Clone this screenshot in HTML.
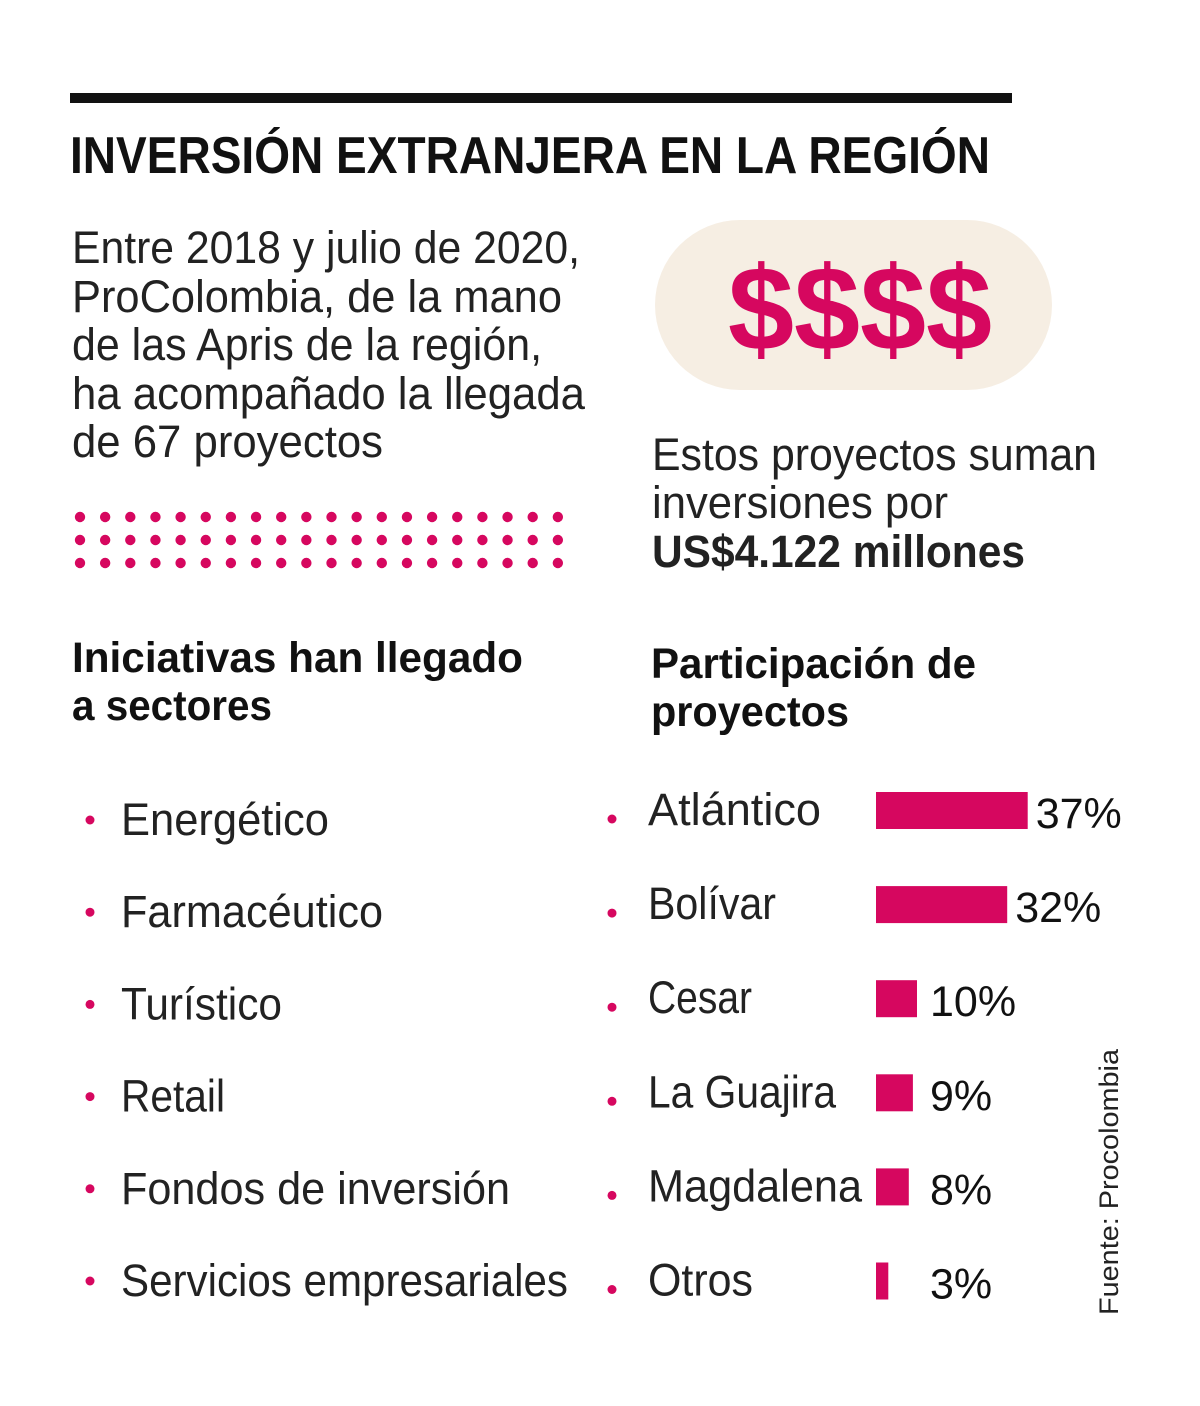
<!DOCTYPE html>
<html><head><meta charset="utf-8"><style>
html,body{margin:0;padding:0;background:#fff;}
svg{display:block;font-family:"Liberation Sans",sans-serif;}
</style></head><body>
<svg id="c" width="1200" height="1406" viewBox="0 0 1200 1406">
<rect x="70" y="93" width="942" height="10" fill="#111"/>
<text x="70" y="173" font-size="52" font-weight="bold" fill="#111" textLength="920" lengthAdjust="spacingAndGlyphs">INVERSIÓN EXTRANJERA EN LA REGIÓN</text>
<g font-size="45" fill="#222">
<text x="72" y="263" textLength="508" lengthAdjust="spacingAndGlyphs">Entre 2018 y julio de 2020,</text>
<text x="72" y="312" textLength="490" lengthAdjust="spacingAndGlyphs">ProColombia, de la mano</text>
<text x="72" y="360" textLength="470" lengthAdjust="spacingAndGlyphs">de las Apris de la región,</text>
<text x="72" y="409" textLength="513" lengthAdjust="spacingAndGlyphs">ha acompañado la llegada</text>
<text x="72" y="457" textLength="311" lengthAdjust="spacingAndGlyphs">de 67 proyectos</text>
</g>
<rect x="655" y="220" width="397" height="170" rx="85" fill="#f6eee3"/>
<text x="728" y="350" font-size="120" font-weight="bold" fill="#d6075f" textLength="264" lengthAdjust="spacingAndGlyphs">$$$$</text>
<g font-size="45" fill="#222">
<text x="652" y="470" textLength="445" lengthAdjust="spacingAndGlyphs">Estos proyectos suman</text>
<text x="652" y="518" textLength="296" lengthAdjust="spacingAndGlyphs">inversiones por</text>
<text x="652" y="567" font-weight="bold" textLength="373" lengthAdjust="spacingAndGlyphs">US$4.122 millones</text>
</g>
<g id="dots" fill="#d6075f"></g>
<g font-size="43" fill="#111" font-weight="bold">
<text x="72" y="672" textLength="451" lengthAdjust="spacingAndGlyphs">Iniciativas han llegado</text>
<text x="72" y="720" textLength="200" lengthAdjust="spacingAndGlyphs">a sectores</text>
</g>
<g font-size="43" fill="#111" font-weight="bold">
<text x="651" y="678" textLength="325" lengthAdjust="spacingAndGlyphs">Participación de</text>
<text x="651" y="726" textLength="198" lengthAdjust="spacingAndGlyphs">proyectos</text>
</g>
<g id="sectors"></g>
<g id="bars"></g>
<text transform="translate(1118,1315) rotate(-90)" font-size="27" fill="#222" textLength="266" lengthAdjust="spacingAndGlyphs">Fuente: Procolombia</text>
</svg>
<script>
const sectors = ["Energético","Farmacéutico","Turístico","Retail","Fondos de inversión","Servicios empresariales"];
const regions = ["Atlántico","Bolívar","Cesar","La Guajira","Magdalena","Otros"];
const shares = [37,32,10,9,8,3];
const shareLabels = ["37%","32%","10%","9%","8%","3%"];
const sectorWidths = [208,262,161,104,389,447];
const regionWidths = [173,128,104,188,214,105];
const NS="http://www.w3.org/2000/svg";
function mk(t,a,p){const e=document.createElementNS(NS,t);for(const k in a)e.setAttribute(k,a[k]);p.appendChild(e);return e;}
const dots=document.getElementById('dots');
for(let r=0;r<3;r++)for(let c=0;c<20;c++){
  const d=mk('circle',{cx:80+c*25.15,cy:517+r*23,r:5.2},dots);
  
  
}
const sg=document.getElementById('sectors');
sectors.forEach((s,i)=>{
  const y=835+i*92.2;
  const b=mk('circle',{cx:90,cy:y-15,r:4.5,fill:'#d6075f'},sg);
  
  
  const t=mk('text',{x:121,y:y,'font-size':45,fill:'#222',textLength:sectorWidths[i],lengthAdjust:'spacingAndGlyphs'},sg);t.textContent=s;
  
  
});
const bg=document.getElementById('bars');
const x0=876, scale=4.1;
function xs(v){return x0+v*scale;}
regions.forEach((r,i)=>{
  const top=792+i*94.1, h=37;
  const b=mk('circle',{cx:612,cy:top+27,r:4.5,fill:'#d6075f'},bg);
  
  
  const t=mk('text',{x:648,y:top+33,'font-size':45,fill:'#222',textLength:regionWidths[i],lengthAdjust:'spacingAndGlyphs'},bg);t.textContent=r;
  
  
  const rect=mk('rect',{x:x0,y:top,width:xs(shares[i])-x0,height:h,fill:'#d6075f'},bg);
  
  
  const lx=Math.max(xs(shares[i])+8, 930);
  const v=mk('text',{x:lx,y:top+36,'font-size':43,fill:'#111'},bg);v.textContent=shareLabels[i];
  
  
});
</script>
</body></html>
